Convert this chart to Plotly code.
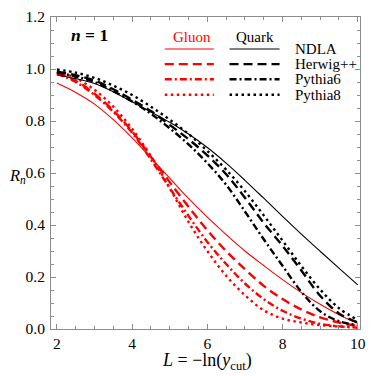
import plotly.graph_objects as go

# ---- data ----
L = [2, 2.5, 3, 3.5, 4, 4.5, 5, 5.5, 6, 6.5, 7, 7.5, 8, 8.5, 9, 9.5, 10]

quark_ndla    = [0.977, 0.963, 0.944, 0.912, 0.874, 0.835, 0.795, 0.750, 0.698, 0.638, 0.572, 0.503, 0.433, 0.365, 0.299, 0.234, 0.170]
quark_herwig  = [0.990, 0.976, 0.956, 0.922, 0.882, 0.838, 0.785, 0.730, 0.668, 0.595, 0.505, 0.408, 0.320, 0.225, 0.128, 0.060, 0.025]
quark_pythia6 = [0.987, 0.971, 0.950, 0.915, 0.875, 0.828, 0.772, 0.710, 0.638, 0.555, 0.452, 0.345, 0.243, 0.143, 0.068, 0.030, 0.015]
quark_pythia8 = [0.998, 0.986, 0.966, 0.936, 0.900, 0.855, 0.805, 0.750, 0.685, 0.613, 0.530, 0.437, 0.340, 0.242, 0.152, 0.080, 0.035]

gluon_ndla    = [0.946, 0.910, 0.865, 0.805, 0.735, 0.658, 0.580, 0.502, 0.430, 0.363, 0.300, 0.244, 0.190, 0.140, 0.095, 0.055, 0.022]
gluon_herwig  = [0.985, 0.955, 0.905, 0.840, 0.760, 0.662, 0.565, 0.470, 0.380, 0.300, 0.230, 0.166, 0.115, 0.075, 0.045, 0.025, 0.012]
gluon_pythia6 = [0.982, 0.950, 0.900, 0.835, 0.755, 0.652, 0.542, 0.435, 0.335, 0.250, 0.175, 0.115, 0.070, 0.040, 0.020, 0.010, 0.005]
gluon_pythia8 = [0.990, 0.965, 0.920, 0.855, 0.770, 0.665, 0.542, 0.412, 0.300, 0.205, 0.130, 0.072, 0.040, 0.025, 0.015, 0.010, 0.008]

x_ticks = [2, 4, 6, 8, 10]
y_ticks = [0.0, 0.2, 0.4, 0.6, 0.8, 1.0, 1.2]
y_tick_text = ["0.0", "0.2", "0.4", "0.6", "0.8", "1.0", "1.2"]
generators = ["NDLA", "Herwig++", "Pythia6", "Pythia8"]

# ---- styles ----
RED = "#ff0000"
BLACK = "#000000"
DASHES = ["solid", "9px,5px", "7px,3px,2px,3px", "2.5px,3.5px"]
WIDTHS = [1.1, 2.4, 2.4, 2.4]
FONT = "Liberation Serif"
FRAME = "#8c8c8c"

W, H = 374, 376
ML, MR, MT, MB = 51, 8, 8, 47
PW, PH = W - ML - MR, H - MT - MB


def px(xp):
    return (xp - ML) / PW


def py(yp):
    return (MT + PH - yp) / PH


fig = go.Figure()

series = [
    (gluon_ndla, gluon_herwig, gluon_pythia6, gluon_pythia8, RED, "Gluon"),
    (quark_ndla, quark_herwig, quark_pythia6, quark_pythia8, BLACK, "Quark"),
]
for g in series:
    color, name = g[4], g[5]
    for i in range(4):
        fig.add_trace(go.Scatter(
            x=L, y=g[i], mode="lines", name=f"{name} {generators[i]}",
            line=dict(color=color, width=WIDTHS[i], dash=DASHES[i], shape="spline", smoothing=1.0),
            showlegend=False, hoverinfo="skip"))

axis_common = dict(
    showgrid=False, zeroline=False, showline=True, linecolor=FRAME, linewidth=1,
    mirror="ticks", ticks="inside", ticklen=5, tickwidth=1, tickcolor=FRAME,
    tickfont=dict(family=FONT, size=15.5, color="black"),
)

fig.update_xaxes(range=[1.843, 10.06], tickvals=x_ticks, ticktext=[str(v) for v in x_ticks],
                 minor=dict(dtick=0.5, tick0=0, ticks="inside", ticklen=3, tickcolor=FRAME, showgrid=False),
                 **axis_common)
fig.update_yaxes(range=[0, 1.2], tickvals=y_ticks, ticktext=y_tick_text,
                 minor=dict(dtick=0.05, tick0=0, ticks="inside", ticklen=3, tickcolor=FRAME, showgrid=False),
                 ticklabelstandoff=2, **axis_common)

ann = []
tf = dict(family=FONT, size=15)
ann.append(dict(x=px(195), y=py(29), text="Gluon", font=dict(tf, color=RED), xanchor="center", yanchor="middle"))
ann.append(dict(x=px(259), y=py(29), text="Quark", font=dict(tf, color=BLACK), xanchor="center", yanchor="middle"))
row_y = [41, 56.5, 72, 88]
for i, gname in enumerate(generators):
    ann.append(dict(x=px(298), y=py(row_y[i]), text=gname, font=dict(tf, color=BLACK), xanchor="left", yanchor="middle"))
ann.append(dict(x=px(69), y=py(27), text="<b><i>n</i> = 1</b>", font=dict(family=FONT, size=17.5, color="black"),
                xanchor="left", yanchor="middle"))
ann.append(dict(x=px(17), y=py(172), text="<i>R</i><sub><i>n</i></sub>", font=dict(family=FONT, size=16.5, color="black"),
                xanchor="center", yanchor="middle"))
ann.append(dict(x=px(210), y=py(362), text="<i>L</i> = \u2212ln(<i>y</i><sub>cut</sub>)",
                font=dict(family=FONT, size=18, color="black"), xanchor="center", yanchor="middle"))
for a in ann:
    a.update(xref="paper", yref="paper", showarrow=False)

shapes = []
for i in range(4):
    for (x0, x1, c) in [(167, 217, RED), (233, 284, BLACK)]:
        shapes.append(dict(type="line", xref="paper", yref="paper", x0=px(x0), x1=px(x1),
                           y0=py(row_y[i]), y1=py(row_y[i]),
                           line=dict(color=c, width=WIDTHS[i], dash=DASHES[i])))

fig.update_layout(
    width=W, height=H, margin=dict(l=ML, r=MR, t=MT, b=MB),
    paper_bgcolor="white", plot_bgcolor="white",
    annotations=ann, shapes=shapes, showlegend=False,
)

fig.write_html("out.html", config={"displayModeBar": False},
               post_script="document.body.style.margin='0';document.body.style.overflow='hidden';")
